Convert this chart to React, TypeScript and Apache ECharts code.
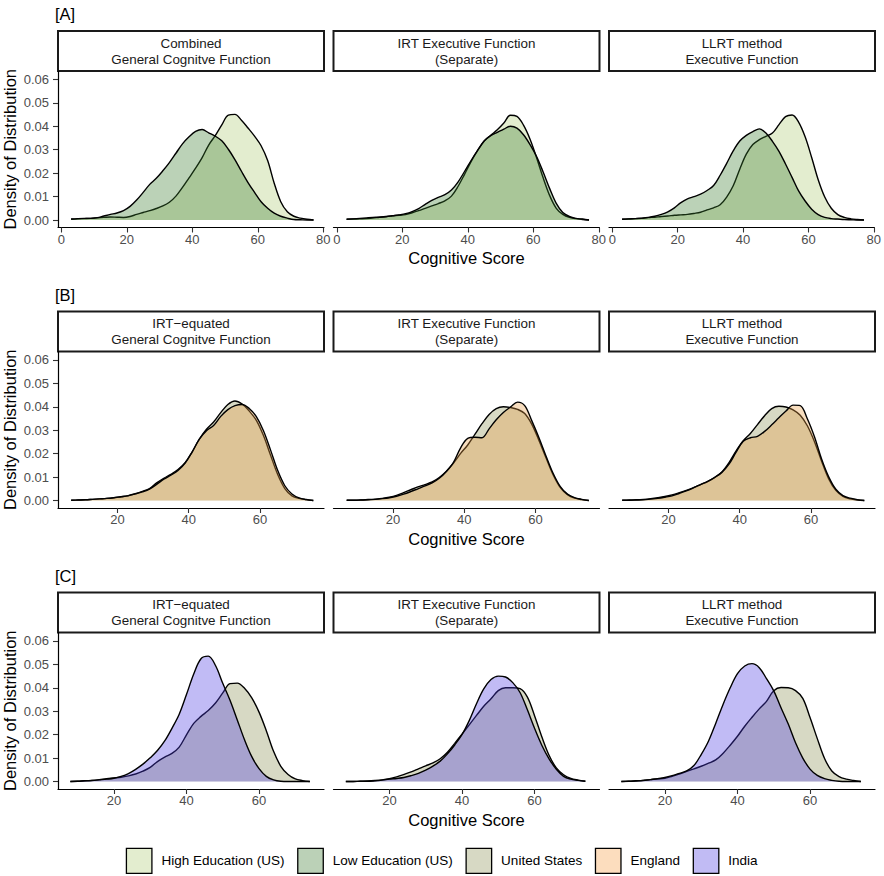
import React, { useEffect, useRef } from "react";
import * as echarts from "echarts";

// ---------------- DATA ----------------
const ROW_LABELS = ["[A]", "[B]", "[C]"];
const STRIP_TITLES = [
  ["Combined\nGeneral Cognitve Function", "IRT Executive Function\n(Separate)", "LLRT method\nExecutive Function"],
  ["IRT\u2212equated\nGeneral Cognitve Function", "IRT Executive Function\n(Separate)", "LLRT method\nExecutive Function"],
  ["IRT\u2212equated\nGeneral Cognitve Function", "IRT Executive Function\n(Separate)", "LLRT method\nExecutive Function"],
];
const LEGEND_NAMES = ["High Education (US)", "Low Education (US)", "United States", "England", "India"];
const X_TITLE = "Cognitive Score";
const Y_TITLE = "Density of Distribution";

const X_TICKS_A = [0, 20, 40, 60, 80];
const X_TICKS_BC = [20, 40, 60];
const Y_TICKS = [0, 0.01, 0.02, 0.03, 0.04, 0.05, 0.06];

// x grids (Cognitive Score) for each row
const X_A = [3, 5, 7, 9, 11, 13, 15, 17, 19, 21, 23, 25, 27, 29, 31, 33, 35, 37, 39, 41, 43, 45, 47, 49, 51, 53, 55, 57, 59, 61, 63, 65, 67, 69, 71, 73, 75, 77];
const X_B = [7, 9, 11, 13, 15, 17, 19, 21, 23, 25, 27, 29, 31, 33, 35, 37, 39, 41, 43, 45, 47, 49, 51, 53, 55, 57, 59, 61, 63, 65, 67, 69, 71, 73, 75];
const X_C = [8, 10, 12, 14, 16, 18, 20, 22, 24, 26, 28, 30, 32, 34, 36, 38, 40, 42, 44, 46, 48, 50, 52, 54, 56, 58, 60, 62, 64, 66, 68, 70, 72, 74];

// Row A: High / Low education (US)
const A1_HIGH = [0.0003, 0.0005, 0.0006, 0.0007, 0.0009, 0.0011, 0.0013, 0.0012, 0.0011, 0.0015, 0.0024, 0.0032, 0.004, 0.0049, 0.006, 0.0076, 0.0102, 0.0139, 0.018, 0.0221, 0.0266, 0.032, 0.036, 0.0406, 0.0448, 0.0451, 0.0426, 0.0393, 0.0358, 0.0317, 0.0254, 0.0157, 0.0078, 0.0035, 0.0016, 0.0008, 0.0003, 0];
const A1_LOW = [0.0004, 0.0006, 0.0007, 0.0007, 0.001, 0.0017, 0.0024, 0.003, 0.004, 0.0058, 0.0085, 0.0118, 0.0152, 0.0178, 0.021, 0.0245, 0.0285, 0.0325, 0.0355, 0.0378, 0.0386, 0.0372, 0.0358, 0.0338, 0.0302, 0.0258, 0.0208, 0.016, 0.0118, 0.0078, 0.005, 0.0029, 0.0016, 0.0008, 0.0002, 0.0001, 0, 0];
const A2_HIGH = [0.0003, 0.0004, 0.0005, 0.0006, 0.0008, 0.0012, 0.0015, 0.0018, 0.002, 0.0023, 0.0031, 0.004, 0.005, 0.006, 0.007, 0.0082, 0.0102, 0.0143, 0.0195, 0.0249, 0.0297, 0.0337, 0.0362, 0.0385, 0.0414, 0.0447, 0.0442, 0.0405, 0.0345, 0.0266, 0.018, 0.0104, 0.005, 0.0024, 0.0011, 0.0006, 0.0002, 0];
const A2_LOW = [0.0003, 0.0005, 0.0007, 0.0009, 0.0011, 0.0012, 0.0014, 0.0018, 0.0022, 0.0027, 0.0036, 0.0049, 0.0067, 0.0084, 0.0097, 0.0108, 0.0128, 0.0162, 0.0207, 0.0254, 0.0297, 0.0337, 0.036, 0.0374, 0.0388, 0.04, 0.0392, 0.0364, 0.0322, 0.0271, 0.0205, 0.0134, 0.0071, 0.0032, 0.0015, 0.0007, 0.0004, 0];
const A3_HIGH = [0.0003, 0.0004, 0.0006, 0.0007, 0.001, 0.0012, 0.0015, 0.0017, 0.002, 0.0022, 0.0024, 0.0028, 0.0033, 0.0043, 0.0052, 0.0065, 0.0098, 0.0146, 0.0217, 0.0281, 0.0322, 0.0343, 0.0357, 0.0371, 0.0407, 0.0441, 0.0448, 0.0418, 0.0355, 0.0267, 0.0172, 0.0098, 0.005, 0.0023, 0.0011, 0.0005, 0.0002, 0];
const A3_LOW = [0.0003, 0.0005, 0.0006, 0.0008, 0.0011, 0.0016, 0.0024, 0.0035, 0.0052, 0.0074, 0.009, 0.01, 0.011, 0.0126, 0.0147, 0.0191, 0.0242, 0.0295, 0.0337, 0.0361, 0.0377, 0.0389, 0.0371, 0.0336, 0.0293, 0.0239, 0.0182, 0.0124, 0.0081, 0.0046, 0.0023, 0.0011, 0.0006, 0.0004, 0.0002, 0.0001, 0, 0];

// Row B: United States / England
const B1_US = [0.0001, 0.0002, 0.0003, 0.0005, 0.0007, 0.0009, 0.0012, 0.0016, 0.0021, 0.0029, 0.0039, 0.0051, 0.0075, 0.0095, 0.0112, 0.0132, 0.0161, 0.0208, 0.0262, 0.0304, 0.0335, 0.0375, 0.041, 0.0425, 0.0412, 0.0382, 0.0342, 0.0277, 0.0193, 0.0111, 0.0051, 0.002, 0.0009, 0.0004, 0];
const B1_ENG = [0.0001, 0.0002, 0.0003, 0.0005, 0.0007, 0.0009, 0.0012, 0.0016, 0.002, 0.0028, 0.0037, 0.0049, 0.0069, 0.0091, 0.0108, 0.0128, 0.016, 0.0208, 0.0262, 0.0298, 0.032, 0.0359, 0.0388, 0.0405, 0.041, 0.0393, 0.0358, 0.0298, 0.0215, 0.0128, 0.0063, 0.0028, 0.0011, 0.0004, 0];
const B2_US = [0.0001, 0.0001, 0.0002, 0.0004, 0.0006, 0.0009, 0.0014, 0.0022, 0.0034, 0.0046, 0.0058, 0.0068, 0.0079, 0.0098, 0.0125, 0.016, 0.0201, 0.0237, 0.0282, 0.0328, 0.0367, 0.0392, 0.04, 0.0397, 0.0389, 0.0371, 0.0325, 0.0256, 0.0181, 0.0109, 0.0055, 0.0025, 0.001, 0.0004, 0];
const B2_ENG = [0.0001, 0.0001, 0.0002, 0.0003, 0.0005, 0.0008, 0.0012, 0.0018, 0.0027, 0.0038, 0.005, 0.0062, 0.0075, 0.0095, 0.0124, 0.0163, 0.0225, 0.0265, 0.027, 0.0268, 0.0306, 0.0345, 0.0376, 0.0399, 0.042, 0.0405, 0.034, 0.0268, 0.0189, 0.0115, 0.0059, 0.0027, 0.0012, 0.0005, 0];
const B3_US = [0.0001, 0.0002, 0.0003, 0.0005, 0.0008, 0.0012, 0.0017, 0.0024, 0.0033, 0.0043, 0.0055, 0.0068, 0.0081, 0.0098, 0.0122, 0.0162, 0.0212, 0.0255, 0.0286, 0.0324, 0.0362, 0.0392, 0.0402, 0.0399, 0.0387, 0.0364, 0.0319, 0.0251, 0.0168, 0.0092, 0.0043, 0.0018, 0.0007, 0.0002, 0];
const B3_ENG = [0.0001, 0.0001, 0.0002, 0.0003, 0.0006, 0.0009, 0.0014, 0.002, 0.003, 0.0041, 0.0054, 0.0068, 0.0082, 0.0099, 0.012, 0.0155, 0.0206, 0.0253, 0.0268, 0.0274, 0.0295, 0.0323, 0.0353, 0.0382, 0.0407, 0.0405, 0.0349, 0.0272, 0.0177, 0.0101, 0.0048, 0.0021, 0.001, 0.0004, 0];

// Row C: United States / India
const C1_US = [0, 0.0001, 0.0003, 0.0005, 0.0008, 0.0012, 0.0015, 0.0018, 0.0024, 0.0032, 0.0044, 0.006, 0.0085, 0.0104, 0.012, 0.0147, 0.0199, 0.0248, 0.0278, 0.0303, 0.0335, 0.0378, 0.0418, 0.042, 0.0398, 0.0357, 0.0296, 0.0217, 0.0129, 0.0065, 0.003, 0.0011, 0.0004, 0];
const C1_IND = [0, 0.0001, 0.0003, 0.0004, 0.0007, 0.001, 0.0014, 0.0022, 0.0034, 0.0052, 0.0074, 0.0101, 0.0132, 0.0173, 0.0227, 0.0287, 0.0371, 0.0459, 0.0524, 0.0535, 0.0495, 0.0419, 0.0347, 0.0263, 0.0178, 0.0106, 0.0055, 0.0022, 0.0007, 0.0001, 0, 0, 0, 0];
const C2_US = [0, 0, 0.0001, 0.0002, 0.0004, 0.0007, 0.0012, 0.002, 0.003, 0.0041, 0.0054, 0.0067, 0.0079, 0.0097, 0.0125, 0.0163, 0.0202, 0.0242, 0.0282, 0.0321, 0.0353, 0.0388, 0.04, 0.04, 0.0396, 0.0361, 0.0281, 0.0191, 0.0112, 0.0058, 0.0029, 0.0013, 0.0006, 0.0001];
const C2_IND = [0, 0, 0.0001, 0.0001, 0.0003, 0.0006, 0.001, 0.0013, 0.0017, 0.0025, 0.0035, 0.0049, 0.0066, 0.0087, 0.0118, 0.0156, 0.02, 0.026, 0.0332, 0.0395, 0.0435, 0.045, 0.0446, 0.0422, 0.038, 0.0307, 0.0227, 0.0155, 0.0097, 0.0052, 0.0022, 0.001, 0.0005, 0.0001];
const C3_US = [0, 0.0001, 0.0003, 0.0005, 0.0008, 0.0011, 0.0014, 0.0022, 0.0032, 0.0043, 0.0054, 0.0065, 0.0078, 0.0092, 0.012, 0.0155, 0.0193, 0.0236, 0.0274, 0.031, 0.0342, 0.0387, 0.0401, 0.04, 0.0388, 0.0355, 0.0273, 0.0183, 0.0098, 0.0045, 0.0021, 0.001, 0.0004, 0];
const C3_IND = [0, 0.0001, 0.0002, 0.0004, 0.0008, 0.0012, 0.0017, 0.0025, 0.0035, 0.0045, 0.0068, 0.0115, 0.0172, 0.0248, 0.0328, 0.04, 0.046, 0.0493, 0.0503, 0.0486, 0.0439, 0.0387, 0.0315, 0.0245, 0.0165, 0.01, 0.0053, 0.0026, 0.0012, 0.0005, 0.0001, 0, 0, 0];

// ---------------- STYLE / LAYOUT ----------------
const FONT = '"Liberation Sans", Arial, Helvetica, sans-serif';
const FILL: Record<string, string> = {
  "High Education (US)": "rgba(175,204,118,0.35)",
  "Low Education (US)": "rgba(60,125,50,0.35)",
  "United States": "rgba(141,146,86,0.35)",
  England: "rgba(232,158,70,0.35)",
  India: "rgba(78,60,225,0.35)",
};
const KEY: Record<string, string> = {
  "High Education (US)": "#E3EDCF",
  "Low Education (US)": "#BBD1B7",
  "United States": "#D7D9C4",
  England: "#FCDDBE",
  India: "#C1BBF4",
};

const COL_LEFT = [58, 333.5, 609];
const PANEL_W = 266;
const ROW_TOP = [71, 351.5, 632.5];
const PANEL_H = 156.5;
const STRIP_H = 40;
const X_RANGE = [
  [-1, 80.2],
  [3.3, 78],
  [4.6, 77.9],
];
const Y_RANGE = [-0.0032, 0.0636];

type Panel = { x: number[]; series: [string, number[]][] };
const PANELS: Panel[][] = [
  [
    { x: X_A, series: [["High Education (US)", A1_HIGH], ["Low Education (US)", A1_LOW]] },
    { x: X_A, series: [["High Education (US)", A2_HIGH], ["Low Education (US)", A2_LOW]] },
    { x: X_A, series: [["High Education (US)", A3_HIGH], ["Low Education (US)", A3_LOW]] },
  ],
  [
    { x: X_B, series: [["United States", B1_US], ["England", B1_ENG]] },
    { x: X_B, series: [["United States", B2_US], ["England", B2_ENG]] },
    { x: X_B, series: [["United States", B3_US], ["England", B3_ENG]] },
  ],
  [
    { x: X_C, series: [["United States", C1_US], ["India", C1_IND]] },
    { x: X_C, series: [["United States", C2_US], ["India", C2_IND]] },
    { x: X_C, series: [["United States", C3_US], ["India", C3_IND]] },
  ],
];

function buildOption() {
  const grid: any[] = [];
  const xAxis: any[] = [];
  const yAxis: any[] = [];
  const series: any[] = [];
  const graphic: any[] = [];

  for (let r = 0; r < 3; r++) {
    graphic.push({
      type: "text",
      x: 55,
      y: ROW_TOP[r] - STRIP_H - 16.8,
      style: { text: ROW_LABELS[r], fontSize: 16.5, fontFamily: FONT, fill: "#000", textVerticalAlign: "middle" },
    });
    for (let c = 0; c < 3; c++) {
      const i = r * 3 + c;
      const left = COL_LEFT[c];
      const top = ROW_TOP[r];
      grid.push({ left, top, width: PANEL_W, height: PANEL_H, containLabel: false });
      const xt = r === 0 ? X_TICKS_A : X_TICKS_BC;
      xAxis.push({
        type: "value",
        gridIndex: i,
        min: X_RANGE[r][0],
        max: X_RANGE[r][1],
        axisLine: { show: true, onZero: false, lineStyle: { color: "#000", width: 1.2 } },
        axisTick: { show: true, length: 5, customValues: xt, lineStyle: { color: "#333", width: 1.1 } },
        axisLabel: { customValues: xt, color: "#4d4d4d", fontSize: 13, fontFamily: FONT, margin: 5 },
        splitLine: { show: false },
        name: c === 1 ? X_TITLE : "",
        nameLocation: "middle",
        nameGap: 22,
        nameTextStyle: { fontSize: 16.5, color: "#000", fontFamily: FONT },
      });
      yAxis.push({
        type: "value",
        gridIndex: i,
        min: Y_RANGE[0],
        max: Y_RANGE[1],
        show: c === 0,
        axisLine: { show: true, onZero: false, lineStyle: { color: "#000", width: 1.2 } },
        axisTick: { show: true, length: 5, customValues: Y_TICKS, lineStyle: { color: "#333", width: 1.1 } },
        axisLabel: {
          customValues: Y_TICKS,
          color: "#4d4d4d",
          fontSize: 13,
          fontFamily: FONT,
          margin: 9,
          formatter: (v: number) => v.toFixed(2),
        },
        splitLine: { show: false },
        name: c === 0 ? Y_TITLE : "",
        nameLocation: "middle",
        nameGap: 40,
        nameRotate: 90,
        nameTextStyle: { fontSize: 16.5, color: "#000", fontFamily: FONT },
      });
      const p = PANELS[r][c];
      p.series.forEach(([name, ys], k) => {
        series.push({
          type: "line",
          name,
          xAxisIndex: i,
          yAxisIndex: i,
          data: p.x.map((x, j) => [x, ys[j]]),
          smooth: 0.35,
          symbol: "none",
          showSymbol: false,
          silent: true,
          z: 2 + k,
          itemStyle: { color: KEY[name] },
          lineStyle: { color: "#000", width: 1.4 },
          areaStyle: { color: FILL[name], opacity: 1, origin: "auto" },
        });
      });
      // strip
      graphic.push({
        type: "rect",
        shape: { x: left, y: top - STRIP_H, width: PANEL_W, height: STRIP_H },
        style: { fill: "#fff", stroke: "#1a1a1a", lineWidth: 2 },
      });
      graphic.push({
        type: "text",
        x: left + PANEL_W / 2,
        y: top - STRIP_H / 2,
        style: {
          text: STRIP_TITLES[r][c],
          fontSize: 13.4,
          lineHeight: 16,
          fontFamily: FONT,
          fill: "#1a1a1a",
          textAlign: "center",
          textVerticalAlign: "middle",
        },
      });
    }
  }

  // legend (drawn from LEGEND_NAMES)
  const fs = 13.5;
  let widths: number[] = LEGEND_NAMES.map((n) => n.length * 6.6);
  try {
    const ctx = document.createElement("canvas").getContext("2d");
    if (ctx) {
      ctx.font = `${fs}px ${FONT}`;
      widths = LEGEND_NAMES.map((n) => ctx.measureText(n).width);
    }
  } catch (e) {}
  const boxW = 25.5;
  const boxH = 25;
  const gapBT = 9.5;
  const gapItem = 13.3;
  const total = widths.reduce((a, w) => a + boxW + gapBT + w, 0) + gapItem * (LEGEND_NAMES.length - 1);
  let lx = 442 - total / 2;
  const ly = 848.3;
  LEGEND_NAMES.forEach((n, k) => {
    graphic.push({
      type: "rect",
      shape: { x: lx, y: ly, width: boxW, height: boxH },
      style: { fill: KEY[n], stroke: "#000", lineWidth: 1.3 },
    });
    graphic.push({
      type: "text",
      x: lx + boxW + gapBT,
      y: ly + boxH / 2,
      style: { text: n, fontSize: fs, fontFamily: FONT, fill: "#000", textVerticalAlign: "middle" },
    });
    lx += boxW + gapBT + widths[k] + gapItem;
  });

  return {
    animation: false,
    backgroundColor: "#fff",
    grid,
    xAxis,
    yAxis,
    series,
    graphic,
  };
}

export default function App() {
  const ref = useRef<HTMLDivElement>(null);
  useEffect(() => {
    document.body.style.margin = "0";
    if (!ref.current) return;
    const chart = echarts.init(ref.current, undefined, { renderer: "svg" });
    chart.setOption(buildOption() as any);
    return () => chart.dispose();
  }, []);
  return <div ref={ref} style={{ position: "absolute", left: 0, top: 0, width: 884, height: 876 }} />;
}
